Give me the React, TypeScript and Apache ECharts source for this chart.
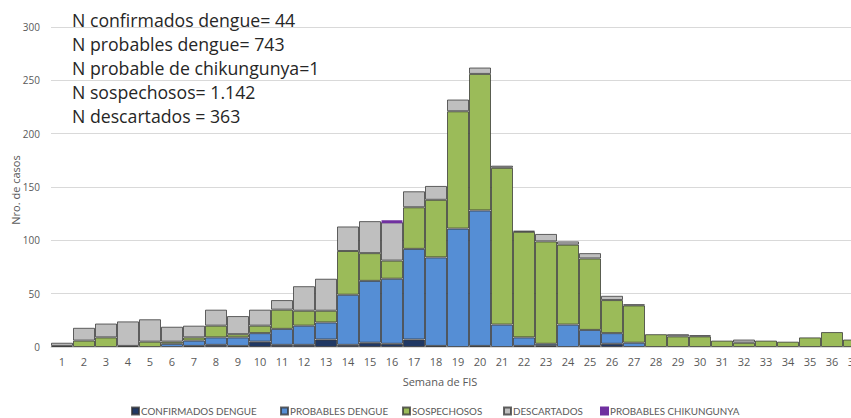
import React, { useEffect, useRef } from "react";
import * as echarts from "echarts";

const weeks = ["1","2","3","4","5","6","7","8","9","10","11","12","13","14","15","16","17","18","19","20","21","22","23","24","25","26","27","28","29","30","31","32","33","34","35","36","37"];

const confirmados = [0,0,0,0,0,0,1,2,1,5,2,2,7,2,4,3,7,1,0,1,0,1,1,0,1,3,0,0,0,0,0,0,0,0,0,0,0];
const probables = [0,0,0,0,0,3,5,7,8,8,15,18,16,47,58,61,85,83,111,127,21,8,2,21,15,10,4,0,0,0,0,0,0,0,0,0,0];
const sospechosos = [1,6,9,1,5,2,3,11,3,7,18,14,11,41,26,17,39,54,110,128,147,99,96,75,67,31,35,12,10,10,6,4,6,5,9,14,7];
const descartados = [3,12,13,23,21,14,11,15,17,15,9,23,30,23,30,36,15,13,11,6,2,1,7,3,5,4,1,0,2,1,0,3,0,0,0,0,0];
const chikungunya = [0,0,0,0,0,0,0,0,0,0,0,0,0,0,0,1,0,0,0,0,0,0,0,0,0,0,0,0,0,0,0,0,0,0,0,0,0];

const seriesNames = ["CONFIRMADOS DENGUE","PROBABLES DENGUE","SOSPECHOSOS","DESCARTADOS","PROBABLES CHIKUNGUNYA"];
const seriesColors = ["#203864","#558ED5","#9BBB59","#BFBFBF","#7030A0"];

const summaryLines = [
  "N confirmados dengue= 44",
  "N probables dengue= 743",
  "N probable de chikungunya=1",
  "N sospechosos= 1.142",
  "N descartados = 363",
];

const yTicks = { min: 0, max: 300, interval: 50 };

const legendLefts = [131, 280, 402, 503, 600];

const FONT = "'Open Sans', 'Noto Sans', sans-serif";

export default function App() {
  const ref = useRef<HTMLDivElement>(null);
  useEffect(() => {
    if (!ref.current) return;
    const chart = echarts.init(ref.current, null, { renderer: "svg" });
    const data = [confirmados, probables, sospechosos, descartados, chikungunya].map((arr) =>
      arr.map((v) => (v === 0 ? null : v))
    );
    chart.setOption({
      animation: false,
      textStyle: { fontFamily: FONT },
      grid: { left: 51, top: 27, width: 814, height: 320, outerBoundsMode: "none", containLabel: false },
      legend: seriesNames.map((name, i) => ({
        data: [name],
        top: 401,
        left: legendLefts[i] - 5,
        itemWidth: 7,
        itemHeight: 7,
        icon: "rect",
        textStyle: { fontSize: 9.8, color: "#595959", fontFamily: "Lato, sans-serif", padding: [0, 0, 0, -3] },
      })),
      xAxis: {
        type: "category",
        data: weeks,
        axisTick: { show: false },
        axisLine: { show: true, lineStyle: { color: "#d9d9d9" } },
        axisLabel: { fontSize: 11, color: "#595959", margin: 9, interval: 0 },
      },
      yAxis: {
        type: "value",
        min: yTicks.min,
        max: yTicks.max,
        interval: yTicks.interval,
        axisLine: { show: false },
        axisTick: { show: false },
        splitLine: { lineStyle: { color: "#d9d9d9" } },
        axisLabel: { fontSize: 10, color: "#595959", margin: 11 },
      },
      series: seriesNames.map((name, i) => ({
        name,
        type: "bar",
        stack: "total",
        barCategoryGap: "0%",
        data: data[i],
        z: i === 4 ? 3 : 2,
        itemStyle: {
          color: seriesColors[i],
          borderColor: i === 4 ? "#7030A0" : "rgba(50,50,50,0.75)",
          borderWidth: i === 4 ? 3 : 1,
        },
      })),
      graphic: [
        {
          type: "text",
          left: 72,
          top: 8,
          style: {
            text: summaryLines.join("\n"),
            fontSize: 17.7,
            lineHeight: 24,
            fill: "#262626",
            fontFamily: FONT,
          },
        },
        {
          type: "text",
          x: 440,
          y: 381,
          style: {
            text: "Semana de FIS",
            fontSize: 11,
            fill: "#595959",
            fontFamily: FONT,
            align: "center",
            verticalAlign: "middle",
          },
        },
        {
          type: "text",
          x: 15,
          y: 190,
          rotation: Math.PI / 2,
          style: {
            text: "Nro. de casos",
            fontSize: 11,
            fill: "#595959",
            fontFamily: FONT,
            align: "center",
            verticalAlign: "middle",
          },
        },
      ],
    });
    return () => chart.dispose();
  }, []);
  return (
    <div
      ref={ref}
      style={{ position: "absolute", left: 0, top: 0, width: 851, height: 418, background: "#fff" }}
    />
  );
}
